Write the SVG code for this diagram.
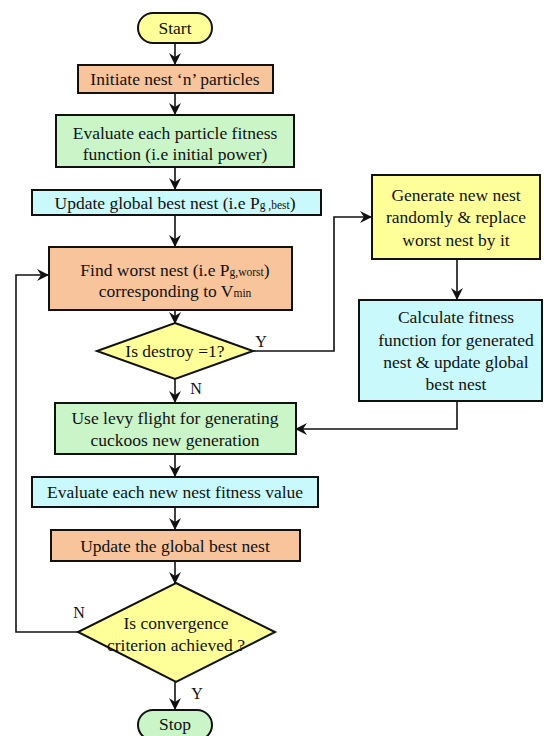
<svg xmlns="http://www.w3.org/2000/svg" width="544" height="736" viewBox="0 0 544 736">
<style>
text{font-family:'Liberation Serif','Times New Roman','DejaVu Serif',serif;font-size:17.5px;fill:#111;text-anchor:middle}
.b{stroke:#111;stroke-width:2}
.y{fill:#ffff99}.o{fill:#f8c49c}.g{fill:#c9f5c9}.c{fill:#c9f9fb}
.ln{fill:none;stroke:#111;stroke-width:1.6}
.sub{font-size:11.5px}
.lab{font-size:16px}
</style>
<defs>
<marker id="ah" viewBox="0 0 12 12" refX="11" refY="6" markerWidth="12" markerHeight="12" markerUnits="userSpaceOnUse" orient="auto">
<path d="M0,0 L12,6 L0,12 L4,6 z" fill="#111"/>
</marker>
</defs>
<rect width="544" height="736" fill="#fff"/>
<g id="connectors">
<line class="ln" x1="175" y1="43" x2="175" y2="64" marker-end="url(#ah)"/>
<line class="ln" x1="175" y1="93" x2="175" y2="114" marker-end="url(#ah)"/>
<line class="ln" x1="175" y1="167" x2="175" y2="189" marker-end="url(#ah)"/>
<line class="ln" x1="175" y1="215" x2="175" y2="246" marker-end="url(#ah)"/>
<line class="ln" x1="175" y1="310" x2="175" y2="323" marker-end="url(#ah)"/>
<polyline class="ln" points="253,351 334,351 334,217 371,217" marker-end="url(#ah)"/>
<line class="ln" x1="457" y1="259" x2="457" y2="299" marker-end="url(#ah)"/>
<polyline class="ln" points="457,401 457,429 296,429" marker-end="url(#ah)"/>
<line class="ln" x1="175" y1="379" x2="175" y2="402" marker-end="url(#ah)"/>
<line class="ln" x1="175" y1="454" x2="175" y2="476" marker-end="url(#ah)"/>
<line class="ln" x1="175" y1="507" x2="175" y2="529" marker-end="url(#ah)"/>
<line class="ln" x1="175" y1="561" x2="175" y2="583" marker-end="url(#ah)"/>
<polyline class="ln" points="78,632 16,632 16,275 48,275" marker-end="url(#ah)"/>
<line class="ln" x1="175" y1="682" x2="175" y2="709" marker-end="url(#ah)"/>
<text class="lab" x="261" y="347">Y</text>
<text class="lab" x="196" y="394">N</text>
<text class="lab" x="79" y="618">N</text>
<text class="lab" x="197" y="699">Y</text>
</g>
<g id="start">
<rect class="b y" x="138" y="13" width="74" height="30" rx="15"/>
<text x="175" y="34">Start</text>
</g>
<g id="init">
<rect class="b o" x="78" y="65" width="195" height="28"/>
<text x="175" y="85">Initiate nest ‘n’ particles</text>
</g>
<g id="evaluate">
<rect class="b g" x="56" y="115" width="238" height="52"/>
<text x="175" y="139">Evaluate each particle fitness</text>
<text x="175" y="160">function (i.e initial power)</text>
</g>
<g id="update-global">
<rect class="b c" x="32" y="190" width="289" height="25"/>
<text x="175" y="209">Update global best nest (i.e P<tspan class="sub">g ,best</tspan>)</text>
</g>
<g id="find-worst">
<rect class="b o" x="49" y="247" width="243" height="63"/>
<text x="175" y="276">Find worst nest (i.e P<tspan class="sub">g,worst</tspan>)</text>
<text x="175" y="297">corresponding to V<tspan class="sub">min</tspan></text>
</g>
<g id="destroy">
<polygon class="b y" points="175,323 253,351 175,379 97,351"/>
<text x="175" y="357">Is destroy =1?</text>
</g>
<g id="generate">
<rect class="b y" x="372" y="175" width="168" height="84"/>
<text x="456" y="201">Generate new nest</text>
<text x="456" y="223">randomly &amp; replace</text>
<text x="456" y="246">worst nest by it</text>
</g>
<g id="calculate">
<rect class="b c" x="359" y="300" width="183" height="101"/>
<text x="456" y="323">Calculate fitness</text>
<text x="456" y="346">function for generated</text>
<text x="456" y="368">nest &amp; update global</text>
<text x="456" y="390">best nest</text>
</g>
<g id="levy">
<rect class="b g" x="55" y="403" width="241" height="51"/>
<text x="175" y="424">Use levy flight for generating</text>
<text x="175" y="446">cuckoos new generation</text>
</g>
<g id="evaluate-new">
<rect class="b c" x="32" y="477" width="286" height="30"/>
<text x="175" y="498">Evaluate each new nest fitness value</text>
</g>
<g id="update-best">
<rect class="b o" x="51" y="530" width="249" height="31"/>
<text x="175" y="552">Update the global best nest</text>
</g>
<g id="convergence">
<polygon class="b y" points="176,583 275,632 176,682 78,632"/>
<text x="176" y="629">Is convergence</text>
<text x="176" y="651">criterion achieved ?</text>
</g>
<g id="stop">
<rect class="b g" x="138" y="710" width="74" height="30" rx="15"/>
<text x="175" y="730">Stop</text>
</g>
</svg>
